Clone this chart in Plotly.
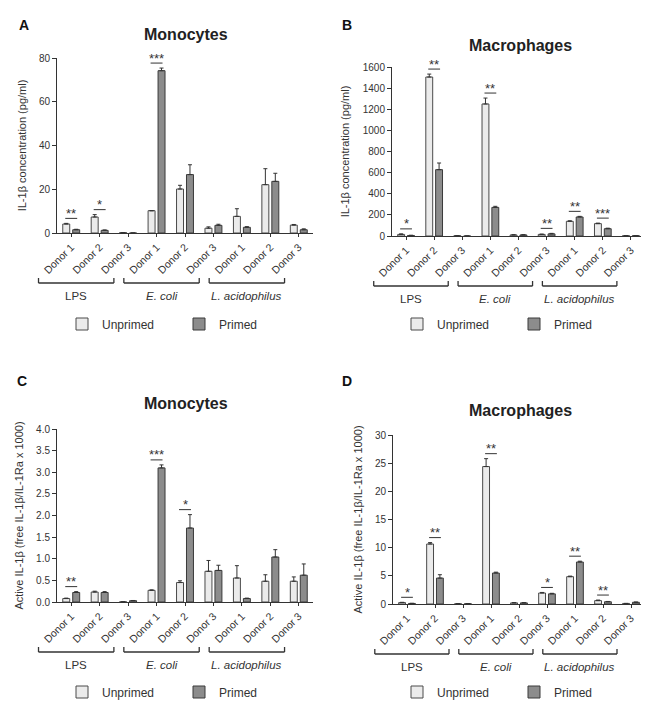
import plotly.graph_objects as go

# ---------------- data ----------------
donors = ["Donor 1", "Donor 2", "Donor 3"] * 3
treatments = ["LPS", "<i>E. coli</i>", "<i>L. acidophilus</i>"]
series_names = ["Unprimed", "Primed"]

# Panel A: Monocytes, IL-1beta concentration (pg/ml)
a_unprimed = [4.1, 7.3, 0.2, 10.2, 20.1, 2.2, 7.6, 22.1, 3.6]
a_unprimed_err = [0.3, 1.1, 0.0, 0.0, 1.7, 0.6, 3.5, 7.3, 0.3]
a_primed = [1.5, 1.2, 0.0, 74.2, 26.7, 3.5, 2.6, 23.6, 1.5]
a_primed_err = [0.2, 0.2, 0.0, 1.2, 4.5, 0.5, 0.3, 3.7, 0.4]
a_sig = [(0, "**"), (1, "*"), (3, "***")]

# Panel B: Macrophages, IL-1beta concentration (pg/ml)
b_unprimed = [15, 1505, 3, 1250, 10, 15, 139, 117, 3]
b_unprimed_err = [5, 28, 0, 56, 2, 3, 5, 5, 0]
b_primed = [5, 628, 0, 271, 10, 20, 180, 69, 3]
b_primed_err = [2, 63, 0, 10, 2, 5, 6, 5, 0]
b_sig = [(0, "*"), (1, "**"), (3, "**"), (5, "**"), (6, "**"), (7, "***")]

# Panel C: Monocytes, active IL-1beta
c_unprimed = [0.08, 0.23, 0.005, 0.27, 0.45, 0.71, 0.555, 0.48, 0.48]
c_unprimed_err = [0.01, 0.02, 0.0, 0.01, 0.04, 0.25, 0.285, 0.15, 0.10]
c_primed = [0.22, 0.22, 0.03, 3.10, 1.71, 0.73, 0.08, 1.04, 0.62]
c_primed_err = [0.02, 0.02, 0.005, 0.07, 0.31, 0.12, 0.01, 0.17, 0.26]
c_sig = [(0, "**"), (3, "***"), (4, "*")]

# Panel D: Macrophages, active IL-1beta
d_unprimed = [0.25, 10.65, 0.05, 24.4, 0.2, 1.95, 4.85, 0.6, 0.1]
d_unprimed_err = [0.05, 0.25, 0.0, 1.4, 0.05, 0.1, 0.1, 0.1, 0.0]
d_primed = [0.1, 4.6, 0.05, 5.5, 0.2, 1.8, 7.45, 0.4, 0.3]
d_primed_err = [0.02, 0.6, 0.0, 0.15, 0.05, 0.1, 0.15, 0.05, 0.05]
d_sig = [(0, "*"), (1, "**"), (3, "**"), (5, "*"), (6, "**"), (7, "**")]

# ---------------- styling / layout ----------------
W, H = 649, 704
FONT = "Liberation Sans, Arial, sans-serif"
TXT = "#333333"
FILL = ["#ebebeb", "#8c8c8c"]
EDGE = ["#4a4a4a", "#3a3a3a"]

title_ab = "IL-1β concentration (pg/ml)"
title_cd = "Active IL-1β (free IL-1β/IL-1Ra x 1000)"

panels = [
    dict(letter="A", name="Monocytes", un=a_unprimed, une=a_unprimed_err, pr=a_primed, pre=a_primed_err,
         sig=a_sig, ymax=80, dtick=20, fmt="d", ytitle=title_ab,
         px=(49, 305), py=(50, 225), title_xy=(178, 27), letter_xy=(16, 17), legend_xy=(171, 316)),
    dict(letter="B", name="Macrophages", un=b_unprimed, une=b_unprimed_err, pr=b_primed, pre=b_primed_err,
         sig=b_sig, ymax=1600, dtick=200, fmt="d", ytitle=title_ab,
         px=(384, 637), py=(59, 228), title_xy=(512, 37), letter_xy=(339, 17), legend_xy=(506, 316)),
    dict(letter="C", name="Monocytes", un=c_unprimed, une=c_unprimed_err, pr=c_primed, pre=c_primed_err,
         sig=c_sig, ymax=4.0, dtick=0.5, fmt=".1f", ytitle=title_cd,
         px=(49, 305), py=(421, 594), title_xy=(178, 395), letter_xy=(14, 373), legend_xy=(171, 684)),
    dict(letter="D", name="Macrophages", un=d_unprimed, une=d_unprimed_err, pr=d_primed, pre=d_primed_err,
         sig=d_sig, ymax=30, dtick=5, fmt="d", ytitle=title_cd,
         px=(385, 637), py=(427, 596), title_xy=(512, 403), letter_xy=(339, 373), legend_xy=(506, 684)),
]

xpos = list(range(len(donors)))
XR = [-0.5, 8.5]

fig = go.Figure()
shapes = []
annotations = []
layout_extra = {}

for k, p in enumerate(panels):
    sfx = "" if k == 0 else str(k + 1)
    xa, ya = "x" + sfx, "y" + sfx
    legname = "legend" + sfx
    for s, (vals, errs) in enumerate([(p["un"], p["une"]), (p["pr"], p["pre"])]):
        fig.add_trace(go.Bar(
            x=xpos, y=vals, name=series_names[s], xaxis=xa, yaxis=ya, legend=legname,
            marker=dict(color=FILL[s], line=dict(color=EDGE[s], width=1)),
            error_y=dict(type="data", symmetric=False, array=errs, arrayminus=[0] * len(errs),
                         color="#333333", thickness=1, width=2),
        ))
    xd = [p["px"][0] / W, p["px"][1] / W]
    yd = [1 - p["py"][1] / H, 1 - p["py"][0] / H]
    hpx = p["py"][1] - p["py"][0]
    layout_extra["xaxis" + sfx] = dict(
        domain=xd, range=XR, anchor=ya, tickvals=xpos, ticktext=donors, tickangle=-45,
        showline=True, linecolor="#333333", linewidth=1, ticks="outside", ticklen=3,
        tickcolor="#333333", showgrid=False, zeroline=False,
        tickfont=dict(family=FONT, size=10.5, color=TXT), automargin=False)
    layout_extra["yaxis" + sfx] = dict(
        domain=yd, range=[0, p["ymax"]], anchor=xa, dtick=p["dtick"], tickformat=p["fmt"],
        showline=True, linecolor="#333333", linewidth=1, ticks="outside", ticklen=4,
        tickcolor="#333333", showgrid=False, zeroline=False,
        tickfont=dict(family=FONT, size=10, color=TXT),
        title=dict(text=p["ytitle"], font=dict(family=FONT, size=11, color=TXT), standoff=10),
        automargin=False)
    layout_extra[legname] = dict(
        orientation="h", x=p["legend_xy"][0] / W, y=1 - p["legend_xy"][1] / H,
        xanchor="center", yanchor="middle", font=dict(family=FONT, size=12, color=TXT),
        bgcolor="rgba(0,0,0,0)", entrywidth=72, itemclick=False)

    # significance lines and stars
    for i, stars in p["sig"]:
        top = max(p["un"][i] + p["une"][i], p["pr"][i] + p["pre"][i])
        f = top / p["ymax"] + 5 / hpx
        shapes.append(dict(type="line", xref=xa, yref=ya + " domain", x0=i - 0.21, x1=i + 0.21,
                           y0=f, y1=f, line=dict(color="#333333", width=1)))
        annotations.append(dict(x=i, y=f, xref=xa, yref=ya + " domain", text=stars, showarrow=False,
                                yanchor="middle", yshift=5, font=dict(family=FONT, size=13, color=TXT)))

    # treatment brackets
    for g, tname in enumerate(treatments):
        x0 = (3 * g - 1.15 - XR[0]) / (XR[1] - XR[0])
        x1 = (3 * g + 1.5 - XR[0]) / (XR[1] - XR[0])
        yb = -50 / hpx
        yt = -45 / hpx
        for (ax0, ay0, ax1, ay1) in [(x0, yb, x1, yb), (x0, yb, x0, yt), (x1, yb, x1, yt)]:
            shapes.append(dict(type="line", xref=xa + " domain", yref=ya + " domain",
                               x0=ax0, y0=ay0, x1=ax1, y1=ay1, line=dict(color="#333333", width=1.3)))
        annotations.append(dict(x=(x0 + x1) / 2, y=-63 / hpx, xref=xa + " domain", yref=ya + " domain",
                                text=tname, showarrow=False, xanchor="center", yanchor="middle",
                                font=dict(family=FONT, size=11.5, color=TXT)))

    # panel titles and letters
    annotations.append(dict(x=p["title_xy"][0] / W, y=1 - p["title_xy"][1] / H, xref="paper", yref="paper",
                            text="<b>" + p["name"] + "</b>", showarrow=False, xanchor="center", yanchor="middle",
                            font=dict(family=FONT, size=16, color="#222222")))
    annotations.append(dict(x=p["letter_xy"][0] / W, y=1 - p["letter_xy"][1] / H, xref="paper", yref="paper",
                            text="<b>" + p["letter"] + "</b>", showarrow=False, xanchor="center", yanchor="middle",
                            font=dict(family=FONT, size=14, color="#111111")))

fig.update_layout(
    width=W, height=H, margin=dict(l=0, r=0, t=0, b=0),
    paper_bgcolor="white", plot_bgcolor="white",
    barmode="group", bargap=0.3, bargroupgap=0.3,
    showlegend=True, shapes=shapes, annotations=annotations,
    font=dict(family=FONT, color=TXT),
    **layout_extra,
)

fig.write_html("out.html")
